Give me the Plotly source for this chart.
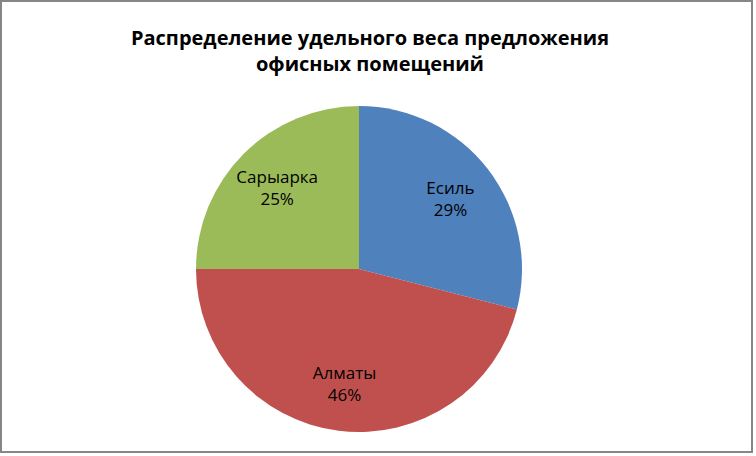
import plotly.graph_objects as go

labels = ["Есиль", "Алматы", "Сарыарка"]
values = [29, 46, 25]
colors = ["#4F81BD", "#C0504D", "#9BBB59"]

W, H = 756, 456
cx, cy, r = 359, 269, 163
dom = dict(x=[(cx - r) / W, (cx + r) / W], y=[1 - (cy + r) / H, 1 - (cy - r) / H])

fig = go.Figure()
# filled pie
fig.add_trace(go.Pie(
    labels=labels, values=values, sort=False, direction="clockwise", rotation=0,
    marker=dict(colors=colors, line=dict(width=0)),
    textinfo="none", hoverinfo="label+percent", showlegend=False, domain=dom,
))
# transparent ring carrying the data labels further out, like Excel
fig.add_trace(go.Pie(
    labels=labels, values=values, sort=False, direction="clockwise", rotation=0,
    hole=0.42,
    marker=dict(colors=["rgba(0,0,0,0)"] * 3, line=dict(width=0)),
    texttemplate="%{label}<br>%{percent:.0%}",
    textposition="inside", insidetextorientation="horizontal",
    textfont=dict(family="Open Sans", size=17, color="#000000"),
    hoverinfo="skip", showlegend=False, domain=dom,
))

fig.update_layout(
    width=W, height=H,
    margin=dict(l=0, r=0, t=0, b=0),
    paper_bgcolor="white",
    title=dict(
        text="<b>Распределение удельного веса предложения<br>офисных помещений</b>",
        x=370 / W, xanchor="center", y=1 - 45 / H, yanchor="middle",
        font=dict(family="Open Sans", size=20, color="#000000"),
    ),
    shapes=[dict(type="rect", xref="paper", yref="paper",
                 x0=1 / W, x1=752 / W, y0=1 - 452 / H, y1=1 - 1 / H,
                 line=dict(color="#868686", width=2))],
)

fig.write_html("out.html", config={"displayModeBar": False},
               post_script="document.body.style.margin='0';")
